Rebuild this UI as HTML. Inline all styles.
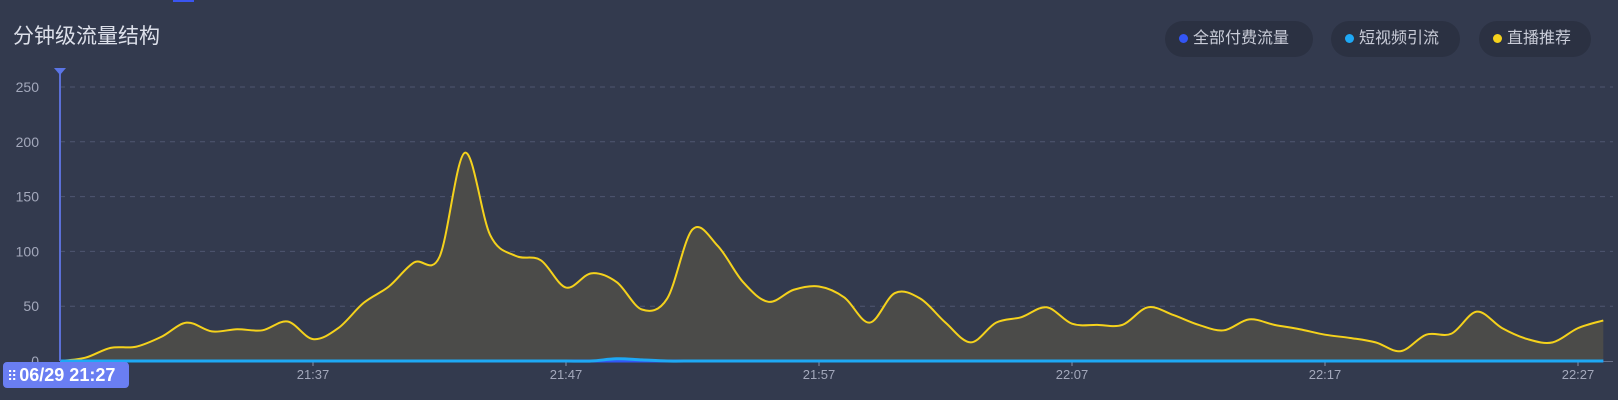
<!DOCTYPE html>
<html><head><meta charset="utf-8"><style>
html,body{margin:0;padding:0;background:#333a4e;}
body{width:1618px;height:400px;position:relative;overflow:hidden;font-family:"Liberation Sans","Noto Sans CJK SC",sans-serif;}
.title{position:absolute;left:13px;top:20px;font-size:21px;color:#dde0ea;}
.legend{position:absolute;top:21px;height:36px;border-radius:18px;background:#2b3142;color:#c9ccd8;font-size:16px;line-height:36px;padding:0 13px 0 14px;box-sizing:border-box;}
.legend i{display:inline-block;width:9px;height:9px;border-radius:50%;margin-right:5px;vertical-align:0px;}
.tag{position:absolute;left:3px;top:362px;width:126px;height:26px;background:#6a7ef2;border-radius:4px;color:#fff;font-weight:bold;font-size:18px;line-height:26px;}
</style></head><body>
<div style="position:absolute;left:173px;top:0;width:21px;height:2px;background:#3a55f0"></div>
<div class="title">分钟级流量结构</div>
<div class="legend" style="left:1165px;width:148px"><i style="background:#3355f5"></i>全部付费流量</div>
<div class="legend" style="left:1331px;width:129px"><i style="background:#1ea8f5"></i>短视频引流</div>
<div class="legend" style="left:1479px;width:112px"><i style="background:#f5d21c"></i>直播推荐</div>
<svg id="chart" width="1618" height="400" style="position:absolute;left:0;top:0"></svg>
<div class="tag"><span style="font-size:14px;letter-spacing:-1px;margin:0 3px 0 4px;font-weight:normal">⠿</span>06/29 21:27</div>
<script>
const minutes=[0,1,2,3,4,5,6,7,8,9,10,11,12,13,14,15,16,17,18,19,20,21,22,23,24,25,26,27,28,29,30,31,32,33,34,35,36,37,38,39,40,41,42,43,44,45,46,47,48,49,50,51,52,53,54,55,56,57,58,59,60,61];
const liveValues=[0,3,12,13,22,35,27,29,28,36,20,30,53,68,90,95,190,115,96,92,67,80,72,47,57,120,105,72,54,65,68,58,35,62,57,35,17,35,40,49,34,33,33,49,42,33,28,38,33,29,24,21,17,9,24,25,45,30,20,17,30,37];
const videoValues=[0,0,0,0,0,0,0,0,0,0,0,0,0,0,0,0,0,0,0,0,0,0,2,1,0,0,0,0,0,0,0,0,0,0,0,0,0,0,0,0,0,0,0,0,0,0,0,0,0,0,0,0,0,0,0,0,0,0,0,0,0,0];
const paidValues=minutes.map(()=>0);
const yTicks=[0,50,100,150,200,250];
const xTickMinutes=[10,20,30,40,50,60];
const xTickLabels=["21:37","21:47","21:57","22:07","22:17","22:27"];
const NS="http://www.w3.org/2000/svg";
const svg=document.getElementById('chart');
const X0=60,PX=25.3,Y0=361,PY=274/250;
const xs=m=>X0+m*PX, ys=v=>Y0-v*PY;
function mk(t,a,p){const e=document.createElementNS(NS,t);for(const k in a)e.setAttribute(k,a[k]);(p||svg).appendChild(e);return e;}
yTicks.forEach(v=>{
  if(v>0){const l=mk('line',{x1:X0,x2:1613,y1:ys(v),y2:ys(v),stroke:'#4f5670','stroke-dasharray':'5 5','stroke-width':1});
  
  }
  const t=mk('text',{x:39,y:ys(v)+5,'text-anchor':'end','font-size':14,fill:'#a3a8bb','font-family':'Liberation Sans, sans-serif'});t.textContent=v;
  
  
});
const ax=mk('line',{x1:X0,x2:1613,y1:Y0+0.5,y2:Y0+0.5,stroke:'#6a7088'});


xTickMinutes.forEach((m,i)=>{
  mk('line',{x1:xs(m),x2:xs(m),y1:Y0,y2:Y0+5,stroke:'#8a90a6'});
  const t=mk('text',{x:xs(m),y:Y0+18,'text-anchor':'middle','font-size':13,fill:'#a3a8bb','font-family':'Liberation Sans, sans-serif'});t.textContent=xTickLabels[i];
  
  
});
function smooth(vals){
  const p=vals.map((v,i)=>[xs(minutes[i]),ys(v)]);
  let d='M'+p[0][0]+','+p[0][1];
  for(let i=0;i<p.length-1;i++){
    const a=p[Math.max(0,i-1)],b=p[i],c=p[i+1],e=p[Math.min(p.length-1,i+2)];
    let c1y=b[1]+(c[1]-a[1])/6,c2y=c[1]-(e[1]-b[1])/6;
    const lo=Math.min(b[1],c[1]),hi=Math.max(b[1],c[1]);
    d+=' C'+(b[0]+(c[0]-a[0])/6)+','+c1y+' '+(c[0]-(e[0]-b[0])/6)+','+c2y+' '+c[0]+','+c[1];
  }
  return d;
}
const ld=smooth(liveValues);
const area=mk('path',{d:ld+' L'+xs(minutes[minutes.length-1])+','+Y0+' L'+X0+','+Y0+' Z',fill:'#4b4b49'});


const line=mk('path',{d:ld,fill:'none',stroke:'#f5d21c','stroke-width':2});


const pl=mk('path',{d:smooth(paidValues),fill:'none',stroke:'#3355f5','stroke-width':3});


const vl=mk('path',{d:smooth(videoValues),fill:'none',stroke:'#1ea8f5','stroke-width':3});


const cur=mk('line',{x1:X0,x2:X0,y1:70,y2:Y0,stroke:'#5b6fd6','stroke-width':2});


const tri=mk('path',{d:'M'+(X0-6)+',68 L'+(X0+6)+',68 L'+X0+',75 Z',fill:'#5b75e6'});


</script>
</body></html>
